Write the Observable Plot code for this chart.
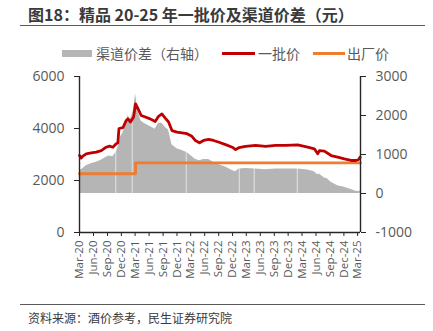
<!DOCTYPE html>
<html><head><meta charset="utf-8">
<script src="https://cdn.jsdelivr.net/npm/d3@7"></script>
<script src="https://cdn.jsdelivr.net/npm/@observablehq/plot@0.6"></script>
<style>
body{margin:0;background:#fff;}
#wrap{position:relative;width:433px;height:331px;overflow:hidden;font-family:"Noto Sans CJK SC","Noto Sans",sans-serif;}
#title{position:absolute;left:28px;top:4px;font-size:16px;line-height:21px;font-weight:bold;color:#3a3a3a;white-space:nowrap;}
.hr{position:absolute;left:20px;width:405px;height:0;border-top:1.5px solid #5a5a5a;}
.lg{position:absolute;top:45px;height:16px;line-height:16px;font-size:14px;color:#595959;white-space:nowrap;}
.sw{position:absolute;}
#chart{position:absolute;left:0;top:62px;}
#caption{position:absolute;left:28px;top:310px;font-size:12px;line-height:16px;color:#3a3a3a;white-space:nowrap;}
</style></head>
<body>
<div id="wrap">
  <div id="title">图18：精品 20-25 年一批价及渠道价差（元）</div>
  <div class="hr" style="top:25px"></div>
  <div class="sw" style="left:62px;top:50px;width:30px;height:7px;background:#b5b5b5"></div>
  <div class="lg" style="left:96px">渠道价差（右轴）</div>
  <div class="sw" style="left:222px;top:52px;width:33px;height:3px;background:#c00000"></div>
  <div class="lg" style="left:258px">一批价</div>
  <div class="sw" style="left:313px;top:52px;width:32px;height:3px;background:#ed7d31"></div>
  <div class="lg" style="left:347px">出厂价</div>
  <div id="chart"></div>
  <div class="hr" style="top:304px"></div>
  <div id="caption">资料来源：酒价参考，民生证券研究院</div>
</div>
<script>
// 一批价 (left axis)
const priceDates = ["2020-03-01","2020-03-12","2020-03-23","2020-04-14","2020-05-17","2020-06-19","2020-07-22","2020-08-23","2020-09-14","2020-10-06","2020-10-28","2020-11-08","2020-11-15","2020-12-11","2021-01-02","2021-01-13","2021-01-30","2021-02-19","2021-03-04","2021-03-20","2021-04-10","2021-05-07","2021-06-08","2021-07-11","2021-08-02","2021-08-24","2021-09-15","2021-10-07","2021-10-29","2021-12-01","2022-01-03","2022-02-05","2022-03-09","2022-03-31","2022-04-28","2022-05-25","2022-06-27","2022-07-29","2022-09-03","2022-10-16","2022-11-29","2022-12-21","2023-01-12","2023-02-25","2023-05-01","2023-07-06","2023-09-10","2023-11-14","2024-02-01","2024-04-07","2024-05-21","2024-06-12","2024-06-23","2024-07-26","2024-09-08","2024-10-21","2024-12-04","2025-01-17","2025-02-19","2025-03-06","2025-03-18"];
const priceValues = [2960,2860,2935,3025,3065,3090,3150,3280,3320,3280,3410,3450,4000,4030,4310,4370,4250,4440,4950,4760,4500,4440,4370,4270,4470,4560,4400,4250,3920,3860,3830,3800,3700,3540,3450,3540,3580,3540,3470,3380,3280,3190,3260,3310,3350,3310,3350,3350,3370,3280,3220,3030,3150,3130,2960,2900,2830,2770,2770,2800,2900];

// 出厂价 (left axis)
const factoryDates = ["2020-03-01","2021-03-04","2025-03-20"];
const factoryValues = [2260,2680,2680];

// 渠道价差 (right axis)
const spreadDates = ["2020-03-01","2020-03-12","2020-04-14","2020-05-17","2020-06-19","2020-07-22","2020-08-23","2020-09-14","2020-10-06","2020-10-28","2020-11-15","2020-11-25","2020-12-11","2021-01-02","2021-01-13","2021-01-30","2021-02-19","2021-03-04","2021-03-20","2021-04-10","2021-05-07","2021-06-08","2021-07-11","2021-08-02","2021-08-24","2021-09-15","2021-10-07","2021-10-29","2021-12-01","2022-01-03","2022-02-05","2022-03-09","2022-03-31","2022-04-28","2022-05-25","2022-06-27","2022-07-29","2022-09-03","2022-10-16","2022-11-29","2022-12-21","2023-01-12","2023-02-25","2023-05-01","2023-07-06","2023-09-10","2023-11-14","2024-02-01","2024-04-07","2024-05-21","2024-06-12","2024-06-23","2024-07-26","2024-08-14","2024-09-08","2024-10-21","2024-12-04","2025-01-17","2025-02-19","2025-03-06","2025-03-18"];
const spreadValues = [640,600,710,760,800,850,930,960,940,1060,1250,1450,1550,1800,2000,1900,2150,2550,2100,1850,1780,1720,1650,1800,1800,1700,1620,1250,1150,1100,1050,950,880,840,870,870,800,740,680,590,560,630,640,630,610,630,630,630,600,560,480,500,400,377,290,200,160,100,60,50,70];

// white breaks in the spread series
const gapDates = ["2020-10-25","2021-02-10","2022-01-31","2023-01-14","2023-04-22","2024-01-30"];

const xTicks = ["2020-03-01","2020-06-01","2020-09-01","2020-12-01","2021-03-01","2021-06-01","2021-09-01","2021-12-01","2022-03-01","2022-06-01","2022-09-01","2022-12-01","2023-03-01","2023-06-01","2023-09-01","2023-12-01","2024-03-01","2024-06-01","2024-09-01","2024-12-01","2025-03-01"];
const leftTicks = [0,2000,4000,6000];
const rightTicks = [-1000,0,1000,2000,3000];

const P = d3.utcParse("%Y-%m-%d");
const price = priceDates.map((d,i)=>({date:P(d), v:priceValues[i]}));
const factory = factoryDates.map((d,i)=>({date:P(d), v:factoryValues[i]}));
const spread = spreadDates.map((d,i)=>({date:P(d), v:spreadValues[i]}));
const toLeft = r => 1500 + 1.5*r;   // right axis -> left axis units
const xDomain = [P("2020-03-01"), P("2025-03-20")];

const chart = Plot.plot({
  width: 433, height: 225,
  marginLeft: 79, marginRight: 73, marginTop: 14, marginBottom: 55,
  style: {fontFamily: "'Open Sans', sans-serif", fontSize: "14px", background: "transparent"},
  x: {type: "utc", domain: xDomain},
  y: {domain: [0, 6000]},
  marks: [
    Plot.areaY(spread, {x: "date", y1: toLeft(0), y2: d => toLeft(d.v), fill: "#b5b5b5"}),
    Plot.ruleX(gapDates.map(P), {y1: toLeft(0), y2: 6000, stroke: "#fff", strokeWidth: 0.8, strokeOpacity: 0.8}),
    Plot.line(factory, {x: "date", y: "v", curve: "step-after", stroke: "#ed7d31", strokeWidth: 2.8}),
    Plot.line(price, {x: "date", y: "v", stroke: "#c00000", strokeWidth: 2.8}),
    Plot.ruleX([xDomain[0]], {stroke: "#262626", strokeWidth: 1.4}),
    Plot.ruleX([xDomain[1]], {stroke: "#262626", strokeWidth: 1.4}),
    Plot.ruleY([0], {stroke: "#262626", strokeWidth: 1.4}),
    Plot.axisY({anchor: "left", ticks: leftTicks, tickFormat: d => String(d), tickSize: 5, tickPadding: 10, label: null, stroke: "#262626", fill: "#595959", fontSize: 14}),
    Plot.axisY({anchor: "right", ticks: rightTicks.map(toLeft), tickFormat: d => String(Math.round((d-1500)/1.5)), tickSize: 5, tickPadding: 10, label: null, stroke: "#262626", fill: "#595959", fontSize: 14}),
    Plot.axisX({ticks: xTicks.map(P), tickFormat: d3.utcFormat("%b-%y"), tickRotate: -90, tickSize: 4, tickPadding: 4, label: null, stroke: "#262626", fill: "#595959", fontSize: 11.5})
  ]
});
document.getElementById("chart").appendChild(chart);
</script>
</body></html>
